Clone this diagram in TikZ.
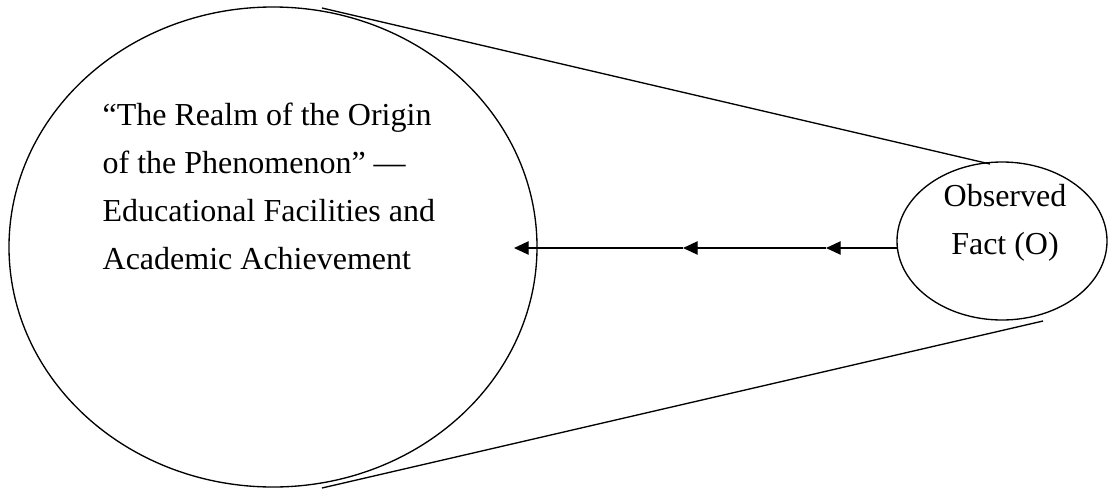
\documentclass[tikz,border=0pt]{standalone}
\usepackage{fontspec}
\setmainfont{Liberation Serif}
\usetikzlibrary{shapes.geometric,arrows.meta}

\begin{document}
\begin{tikzpicture}[x=0.75pt,y=-0.75pt,line width=1pt,
  realm/.style={draw,ellipse,inner sep=0pt,outer sep=0pt},
  flow/.style={-{Triangle[length=11pt,width=10pt]}},
  txt/.style={font=\fontsize{24}{36}\selectfont,inner sep=0pt}]
\useasboundingbox (0,0) rectangle (1109,489);

% the two regions
\node[realm,minimum width=396pt,minimum height=360pt] (realm) at (273,247) {};
\node[realm,minimum width=157.5pt,minimum height=118.5pt] (obs) at (1002,241) {};

\node[txt,anchor=north west,align=left] (realmtext) at (102,102)
  {“The Realm of the Origin\\of the Phenomenon” —\\Educational Facilities and\\Academic Achievement};
\node[txt,align=center] (obstext) at (1005,223) {Observed\\Fact (O)};

% cone between them
\coordinate (ctop) at (322,8);
\coordinate (cbot) at (322,488);
\coordinate (otop) at (990,164);
\coordinate (obot) at (1043,321);
\draw (ctop) -- (otop);
\draw (cbot) -- (obot);

% arrows back to the origin
\coordinate (ostart) at (897,248);
\coordinate (a1) at (826,248);
\coordinate (a2) at (683,248);
\coordinate (a3) at (514,248);
\draw[flow] (ostart) -- (a1);
\draw[flow] (a1) -- (a2);
\draw[flow] (a2) -- (a3);

\end{tikzpicture}
\end{document}
